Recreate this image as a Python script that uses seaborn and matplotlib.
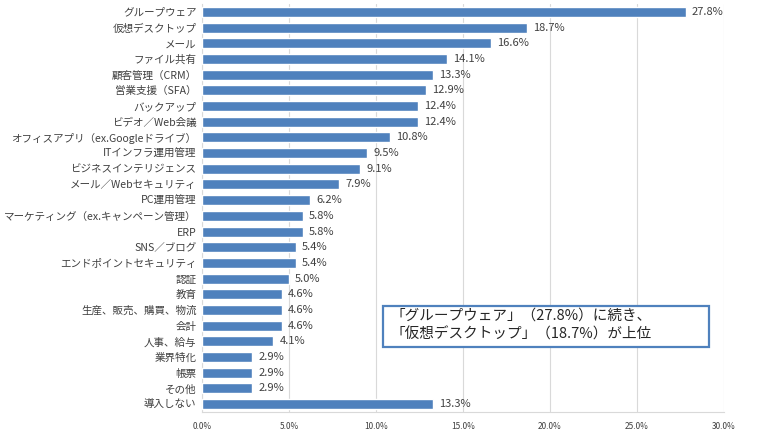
import pandas as pd
import matplotlib
matplotlib.use('Agg')
import matplotlib.pyplot as plt
import seaborn as sns
from matplotlib.patches import Rectangle
from matplotlib.ticker import FuncFormatter

# data (percent)
categories = [
    'グループウェア', '仮想デスクトップ', 'メール', 'ファイル共有', '顧客管理（CRM）',
    '営業支援（SFA）', 'バックアップ', 'ビデオ／Web会議', 'オフィスアプリ（ex.Googleドライブ）',
    'ITインフラ運用管理', 'ビジネスインテリジェンス', 'メール／Webセキュリティ', 'PC運用管理',
    'マーケティング（ex.キャンペーン管理）', 'ERP', 'SNS／ブログ', 'エンドポイントセキュリティ',
    '認証', '教育', '生産、販売、購買、物流', '会計', '人事、給与', '業界特化', '帳票',
    'その他', '導入しない',
]
values = [27.8, 18.7, 16.6, 14.1, 13.3, 12.9, 12.4, 12.4, 10.8, 9.5, 9.1, 7.9, 6.2,
          5.8, 5.8, 5.4, 5.4, 5.0, 4.6, 4.6, 4.6, 4.1, 2.9, 2.9, 2.9, 13.3]
x_ticks = [0, 5, 10, 15, 20, 25, 30]
note = '「グループウェア」（27.8%）に続き、\n「仮想デスクトップ」（18.7%）が上位'

df = pd.DataFrame({'category': categories, 'value': values})

sns.set_style('white')
plt.rcParams['font.family'] = ['Noto Sans CJK JP', 'DejaVu Sans']

bar_color = '#4F81BD'
grid_color = '#D9D9D9'

fig = plt.figure(figsize=(7.62, 4.37), dpi=100)
ax = fig.add_axes([202 / 762, 1 - 412 / 437, 522 / 762, 408 / 437])

sns.barplot(data=df, x='value', y='category', color=bar_color, width=0.64,
            saturation=1, ax=ax, zorder=3)

for i, v in enumerate(values):
    ax.text(v + 0.35, i, f'{v:.1f}%', va='center', ha='left', fontsize=8, color='#404040')

ax.set_xlim(0, 30)
ax.set_ylim(len(categories) - 0.5, -0.5)
ax.set_xticks(x_ticks)
ax.xaxis.set_major_formatter(FuncFormatter(lambda v, p: f'{v:.1f}%'))
ax.tick_params(axis='x', labelsize=6, colors='#404040', length=0, pad=7)
ax.tick_params(axis='y', labelsize=7.6, colors='#404040', length=0, pad=4)
ax.set_xlabel('')
ax.set_ylabel('')
ax.grid(axis='x', color=grid_color, linewidth=0.8, zorder=0)
ax.grid(axis='y', visible=False)
for side in ['top', 'right']:
    ax.spines[side].set_visible(False)
for side in ['left', 'bottom']:
    ax.spines[side].set_color(grid_color)
    ax.spines[side].set_linewidth(0.8)

# callout box
W, H = 762, 437
box = Rectangle((383 / W, 1 - 347 / H), (709 - 383) / W, (347 - 306) / H,
                transform=fig.transFigure, facecolor='white', edgecolor=bar_color,
                linewidth=1.6, zorder=5)
fig.patches.append(box)
fig.text(391 / W, 1 - 325 / H, note, fontsize=10.5, color='#262626',
         ha='left', va='center', linespacing=1.35, zorder=6)

fig.savefig('out.png', dpi=100)
